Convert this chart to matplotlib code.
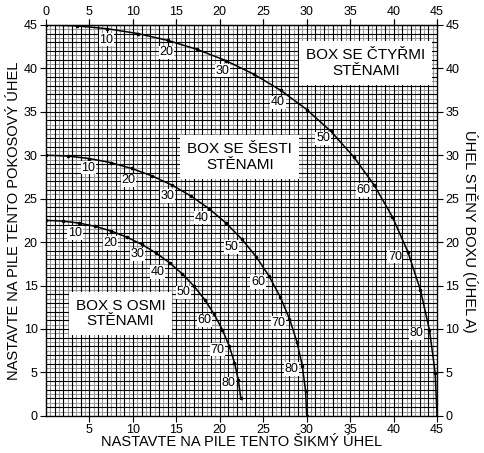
import matplotlib
matplotlib.use("Agg")
import matplotlib.pyplot as plt
import numpy as np

plt.rcParams['font.family'] = ['Liberation Sans', 'DejaVu Sans']

# wall angle A (degrees), one point every 5 degrees
wall_angle = [0, 5, 10, 15, 20, 25, 30, 35, 40, 45, 50, 55, 60, 65, 70, 75, 80, 85, 90]

# box with four sides: bevel (x) and miter (y)
bevel_4 = [0.0, 3.53, 7.05, 10.55, 14.00, 17.39, 20.70, 23.93, 27.03, 30.00,
           32.80, 35.39, 37.76, 39.86, 41.64, 43.08, 44.13, 44.78, 45.0]
miter_4 = [45.0, 44.89, 44.56, 44.01, 43.22, 42.18, 40.89, 39.32, 37.46, 35.26,
           32.74, 29.84, 26.57, 22.91, 18.88, 14.51, 9.85, 4.98, 0.0]

# box with six sides
bevel_6 = [0.0, 2.50, 4.98, 7.44, 9.85, 12.20, 14.48, 16.67, 18.75, 20.70,
           22.52, 24.18, 25.66, 26.95, 28.02, 28.88, 29.50, 29.87, 30.0]
miter_6 = [30.0, 29.91, 29.62, 29.15, 28.48, 27.62, 26.57, 25.31, 23.86, 22.21,
           20.36, 18.32, 16.10, 13.71, 11.17, 8.50, 5.73, 2.88, 0.0]

# box with eight sides (curve stops at A = 85)
bevel_8 = [0.0, 1.91, 3.81, 5.68, 7.52, 9.31, 11.03, 12.68, 14.24, 15.70,
           17.05, 18.27, 19.35, 20.29, 21.08, 21.69, 22.14, 22.41]
miter_8 = [22.5, 22.42, 22.19, 21.81, 21.27, 20.57, 19.73, 18.74, 17.60, 16.33,
           14.91, 13.37, 11.70, 9.93, 8.06, 6.12, 4.11, 2.07]

labelled = [10, 20, 30, 40, 50, 60, 70, 80]

box_names = ["BOX SE ČTYŘMI\nSTĚNAMI", "BOX SE ŠESTI\nSTĚNAMI", "BOX S OSMI\nSTĚNAMI"]

# label offsets in pixels (dx right, dy down) for each curve
offs_4 = [(-1, 11), (-1, 12), (-3, 10), (-3, 12), (-8, 7), (-11, 5), (-13, 5), (-13, 3)]
offs_6 = [(-1, 9), (-3, 12), (-4, 11), (-7, 9), (-10, 8), (-11, 6), (-11, 4), (-11, 3)]
offs_8 = [(-4, 10), (-1, 12), (-4, 10), (-12, 9), (-11, 6), (-10, 6), (-12, 4), (-10, 3)]

fig = plt.figure(figsize=(4.84, 4.53), dpi=100)
ax = fig.add_axes([0.095, 0.082, 0.808, 0.863])
ax.set_xlim(0, 45)
ax.set_ylim(0, 45)

# graph paper
for v in np.arange(0.5, 45, 1.0):
    ax.axvline(v, color='#9a9a9a', lw=0.8, zorder=1)
    ax.axhline(v, color='#9a9a9a', lw=0.8, zorder=1)
for v in range(1, 45):
    ax.axvline(v, color='black', lw=0.8, zorder=1)
    ax.axhline(v, color='black', lw=0.8, zorder=1)

curves = [(bevel_4, miter_4, offs_4), (bevel_6, miter_6, offs_6), (bevel_8, miter_8, offs_8)]
for bev, mit, offs in curves:
    ax.plot(bev, mit, color='black', lw=1.1, zorder=3)
    ax.plot(bev, mit, 'o', color='black', ms=1.6, zorder=3)
    for lab, (dx, dy) in zip(labelled, offs):
        i = wall_angle.index(lab)
        ax.annotate(str(lab), (bev[i], mit[i]), xytext=(dx, -dy), textcoords='offset pixels',
                    ha='center', va='center', fontsize=9, zorder=4,
                    bbox=dict(boxstyle='square,pad=0.05', fc='white', ec='none'))

box_pos = [(36.8, 40.6), (22.3, 29.8), (8.6, 11.8)]
for name, (bx, by) in zip(box_names, box_pos):
    ax.text(bx, by, name, ha='center', va='center', fontsize=11, zorder=5,
            linespacing=1.15,
            bbox=dict(boxstyle='square,pad=0.45', fc='white', ec='none'))

ax.set_xticks(range(5, 50, 5))
ax.set_yticks(range(0, 50, 5))
ax.tick_params(direction='out', length=4, width=0.8, labelsize=9, pad=2,
               top=True, right=True, labelright=True)
for s in ax.spines.values():
    s.set_linewidth(1.0)
    s.set_zorder(6)

top = ax.secondary_xaxis('top')
top.set_xticks(range(0, 50, 5))
top.tick_params(direction='out', length=4, width=0.8, labelsize=9, pad=1)

ax.set_xlabel("NASTAVTE NA PILE TENTO ŠIKMÝ ÚHEL", fontsize=10.5, labelpad=-1)
ax.set_ylabel("NASTAVTE NA PILE TENTO POKOSOVÝ ÚHEL", fontsize=10.5, labelpad=2)
fig.text(0.972, 0.49, "ÚHEL STĚNY BOXU (ÚHEL A)", rotation=270, ha='center', va='center',
         fontsize=10.5)

fig.savefig("out.png", dpi=100)
